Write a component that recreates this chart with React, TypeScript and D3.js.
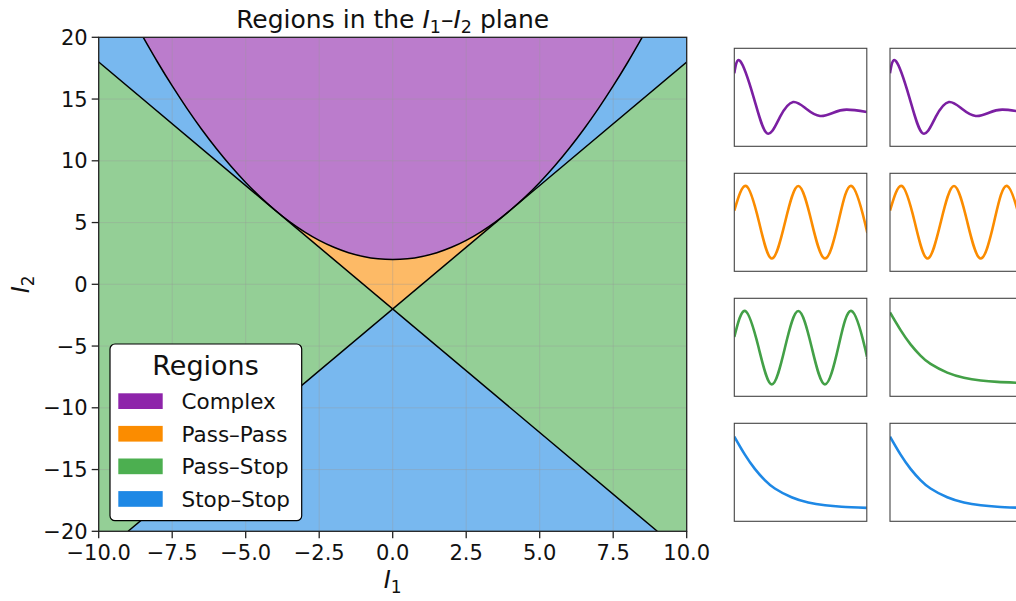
import * as d3 from "d3";
import React from "react";

// axis ticks of the main plot
const xTicks = [-10, -7.5, -5, -2.5, 0, 2.5, 5, 7.5, 10];
const yTicks = [-20, -15, -10, -5, 0, 5, 10, 15, 20];

// boundary curves
const parabolaI1 = [-8.5, -8, -7.5, -7, -6.5, -6, -5.5, -5, -4.5, -4, -3.5, -3, -2.5, -2, -1.5, -1, -0.5, 0,
  0.5, 1, 1.5, 2, 2.5, 3, 3.5, 4, 4.5, 5, 5.5, 6, 6.5, 7, 7.5, 8, 8.5];
const parabolaI2 = [20.06, 18, 16.06, 14.25, 12.56, 11, 9.56, 8.25, 7.06, 6, 5.06, 4.25, 3.56, 3, 2.56, 2.25, 2.06, 2,
  2.06, 2.25, 2.56, 3, 3.56, 4.25, 5.06, 6, 7.06, 8.25, 9.56, 11, 12.56, 14.25, 16.06, 18, 20.06];
const lineAI1 = [-10, 9];
const lineAI2 = [18, -20];
const lineBI1 = [-9, 10];
const lineBI2 = [-20, 18];
const crossing = [0, -2];
const tangentI1 = 4;

// legend
const regionNames = ["Complex", "Pass\u2013Pass", "Pass\u2013Stop", "Stop\u2013Stop"];
const regionSolid = ["#8e24aa", "#fb8c00", "#4caf50", "#1e88e5"];
// same colours at alpha 0.6 over white
const regionFill = ["#bb7ccc", "#fdba66", "#94cf96", "#78b8ef"];
const curveColors = ["#7b1fa2", "#fb8c00", "#43a047", "#1e88e5"];

// small response panels (t and level as fraction of panel)
const complexT = [0, 0.045, 0.146, 0.246, 0.345, 0.444, 0.545, 0.647, 0.747, 0.847, 1.0];
const complexY = [0.745, 0.87, 0.5, 0.133, 0.3, 0.452, 0.38, 0.309, 0.342, 0.374, 0.35];
const passPassT = [0, 0.09, 0.187, 0.283, 0.383, 0.483, 0.584, 0.684, 0.785, 0.885, 0.985, 1.0];
const passPassY = [0.62, 0.87, 0.5, 0.13, 0.5, 0.87, 0.5, 0.13, 0.5, 0.87, 0.5, 0.41];
const passStopOscT = [0, 0.083, 0.183, 0.283, 0.383, 0.483, 0.584, 0.684, 0.785, 0.885, 0.985, 1.0];
const passStopOscY = [0.605, 0.87, 0.5, 0.122, 0.5, 0.87, 0.5, 0.122, 0.5, 0.87, 0.5, 0.395];
const decayT = [0, 0.08, 0.155, 0.23, 0.306, 0.432, 0.558, 0.685, 0.81, 1.0];
const passStopDecayY = [0.855, 0.675, 0.53, 0.415, 0.33, 0.242, 0.19, 0.162, 0.147, 0.136];
const stopStopY = [0.864, 0.68, 0.535, 0.42, 0.335, 0.245, 0.192, 0.164, 0.149, 0.137];

const miniPanels = [
  [{t: complexT, y: complexY, c: 0}, {t: complexT, y: complexY, c: 0}],
  [{t: passPassT, y: passPassY, c: 1}, {t: passPassT, y: passPassY, c: 1}],
  [{t: passStopOscT, y: passStopOscY, c: 2}, {t: decayT, y: passStopDecayY, c: 2}],
  [{t: decayT, y: stopStopY, c: 3}, {t: decayT, y: stopStopY, c: 3}],
];

const W = 1016, H = 601;
const font = "DejaVu Sans, sans-serif";
const minus = (s: string) => s.replace("-", "\u2212");

export default function App() {
  const m = {left: 98.7, right: 686.7, top: 37.3, bottom: 531.3};
  const x = d3.scaleLinear().domain([-10, 10]).range([m.left, m.right]);
  const y = d3.scaleLinear().domain([-20, 20]).range([m.bottom, m.top]);

  const parabola = parabolaI1.map((v, i) => [v, parabolaI2[i]] as [number, number]);
  const line = d3.line<[number, number]>().x(d => x(d[0])).y(d => y(d[1]));
  const smooth = d3.line<[number, number]>().x(d => x(d[0])).y(d => y(d[1])).curve(d3.curveCatmullRom.alpha(0.5));

  const purplePath = smooth(parabola) + "L" + x(8.5) + "," + y(22) + "L" + x(-8.5) + "," + y(22) + "Z";
  const inner = parabola.filter(p => Math.abs(p[0]) <= tangentI1).reverse();
  const orangePath = line([[-tangentI1, inner[inner.length - 1][1]], [crossing[0], crossing[1]], [tangentI1, inner[0][1]]]) +
    smooth(inner)!.replace(/^M/, "L") + "Z";
  const blueUpper = line([[-10, 18], [crossing[0], crossing[1]], [10, 18], [10, 21], [-10, 21]]) + "Z";
  const blueLower = line([[-9, -20], [crossing[0], crossing[1]], [9, -20], [10, -21], [-10, -21]]) + "Z";

  const fmtX = d3.format(".1f");

  const colX = [734.3, 890];
  const rowY = [48.3, 173.3, 298.3, 423.3];
  const pw = 132.5, ph = 98;

  return (
    <svg width={W} height={H} style={{position: "absolute", left: 0, top: 0, background: "#fff"}} fontFamily={font}>
      <defs>
        <clipPath id="plotClip">
          <rect x={m.left} y={m.top} width={m.right - m.left} height={m.bottom - m.top} />
        </clipPath>
        {miniPanels.map((row, r) => row.map((_, c) => (
          <clipPath id={`mini${r}${c}`} key={`${r}${c}`}>
            <rect x={colX[c]} y={rowY[r]} width={pw} height={ph} />
          </clipPath>
        )))}
      </defs>

      <g clipPath="url(#plotClip)">
        <rect x={m.left} y={m.top} width={m.right - m.left} height={m.bottom - m.top} fill={regionFill[2]} />
        <path d={blueUpper} fill={regionFill[3]} />
        <path d={blueLower} fill={regionFill[3]} />
        <path d={orangePath} fill={regionFill[1]} />
        <path d={purplePath} fill={regionFill[0]} />
        {xTicks.map(t => (
          <line key={"gx" + t} x1={x(t)} x2={x(t)} y1={m.top} y2={m.bottom} stroke="#999" strokeOpacity={0.35} strokeWidth={1} />
        ))}
        {yTicks.map(t => (
          <line key={"gy" + t} x1={m.left} x2={m.right} y1={y(t)} y2={y(t)} stroke="#999" strokeOpacity={0.35} strokeWidth={1} />
        ))}
        <path d={line(lineAI1.map((v, i) => [v, lineAI2[i]]))!} fill="none" stroke="#000" strokeWidth={1.5} />
        <path d={line(lineBI1.map((v, i) => [v, lineBI2[i]]))!} fill="none" stroke="#000" strokeWidth={1.5} />
        <path d={smooth(parabola)!} fill="none" stroke="#000" strokeWidth={1.5} />
      </g>
      <rect x={m.left} y={m.top} width={m.right - m.left} height={m.bottom - m.top} fill="none" stroke="#222" strokeWidth={1.3} />

      {xTicks.map(t => (
        <g key={"xt" + t}>
          <line x1={x(t)} x2={x(t)} y1={m.bottom} y2={m.bottom + 7} stroke="#222" strokeWidth={1.3} />
          <text x={x(t)} y={560} textAnchor="middle" fontSize={21} fill="#111">{minus(fmtX(t))}</text>
        </g>
      ))}
      {yTicks.map(t => (
        <g key={"yt" + t}>
          <line x1={m.left - 7} x2={m.left} y1={y(t)} y2={y(t)} stroke="#222" strokeWidth={1.3} />
          <text x={m.left - 11} y={y(t)} dy="0.36em" textAnchor="end" fontSize={21} fill="#111">{minus(String(t))}</text>
        </g>
      ))}

      <text x={(m.left + m.right) / 2} y={28} textAnchor="middle" fontSize={25} fill="#111">
        Regions in the <tspan fontStyle="italic">I</tspan><tspan fontSize={17.5} dy={5}>1</tspan>
        <tspan dy={-5}>{"\u2013"}</tspan><tspan fontStyle="italic">I</tspan><tspan fontSize={17.5} dy={5}>2</tspan>
        <tspan dy={-5}> plane</tspan>
      </text>
      <text x={(m.left + m.right) / 2} y={588} textAnchor="middle" fontSize={24} fill="#111">
        <tspan fontStyle="italic">I</tspan><tspan fontSize={17} dy={5}>1</tspan>
      </text>
      <text transform={`translate(29,${(m.top + m.bottom) / 2}) rotate(-90)`} textAnchor="middle" fontSize={24} fill="#111">
        <tspan fontStyle="italic">I</tspan><tspan fontSize={17} dy={5}>2</tspan>
      </text>

      <g>
        <rect x={110} y={344} width={191.7} height={176.7} rx={5} fill="#fff" stroke="#000" strokeWidth={1.2} />
        <text x={205.5} y={375} textAnchor="middle" fontSize={27} fill="#111">Regions</text>
        {regionNames.map((n, i) => (
          <g key={n}>
            <rect x={118.3} y={393.3 + i * 32.6} width={44.4} height={15.7} fill={regionSolid[i]} />
            <text x={181.5} y={409 + i * 32.6} fontSize={21.5} fill="#111">{n}</text>
          </g>
        ))}
      </g>

      {miniPanels.map((row, r) => row.map((p, c) => {
        const sx = d3.scaleLinear().domain([0, 1]).range([colX[c], colX[c] + pw]);
        const sy = d3.scaleLinear().domain([0, 1]).range([rowY[r] + ph, rowY[r]]);
        const pts = p.t.map((t, i) => [t, p.y[i]] as [number, number]);
        const ln = d3.line<[number, number]>().x(d => sx(d[0])).y(d => sy(d[1])).curve(d3.curveNatural);
        return (
          <g key={`p${r}${c}`}>
            <g clipPath={`url(#mini${r}${c})`}>
              <path d={ln(pts)!} fill="none" stroke={curveColors[p.c]} strokeWidth={2.6} />
            </g>
            <rect x={colX[c]} y={rowY[r]} width={pw} height={ph} fill="none" stroke="#444" strokeWidth={1.1} />
          </g>
        );
      }))}
    </svg>
  );
}
